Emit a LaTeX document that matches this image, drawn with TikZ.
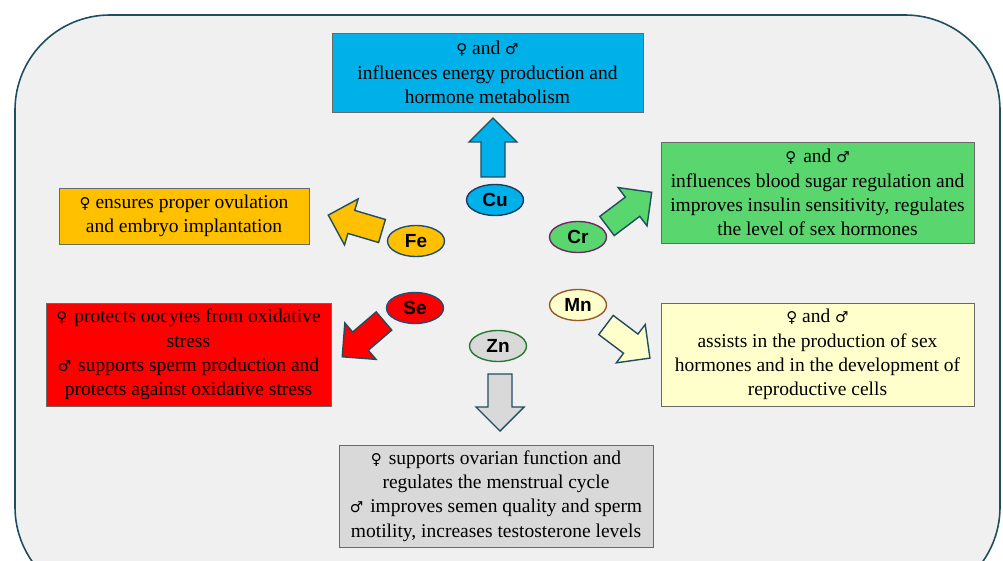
\documentclass[tikz,border=0pt]{standalone}
\usepackage{fontspec}
\setmainfont{Liberation Serif}
\newfontfamily\lblfont{Liberation Sans}
\newfontfamily\symfont{DejaVu Sans}
\usetikzlibrary{shapes.geometric}
\definecolor{bgfill}{RGB}{240,240,240}
\definecolor{framecol}{RGB}{31,78,95}
\definecolor{cublue}{RGB}{0,176,232}
\definecolor{fegold}{RGB}{255,192,0}
\definecolor{sered}{RGB}{255,0,0}
\definecolor{crgreen}{RGB}{90,214,110}
\definecolor{mnyellow}{RGB}{255,255,204}
\definecolor{zngray}{RGB}{217,217,217}
\definecolor{boxline}{RGB}{105,105,105}
\definecolor{cuedge}{RGB}{31,56,100}
\definecolor{feedge}{RGB}{31,78,121}
\definecolor{credge}{RGB}{112,40,100}
\definecolor{mnedge}{RGB}{150,90,40}
\definecolor{znedge}{RGB}{40,120,50}
\newcommand\fem{{\symfont\fontsize{15}{24}\selectfont ♀}}
\newcommand\mal{{\symfont\fontsize{15}{24}\selectfont ♂}}
\newcommand\blkarrow[4]{%
  \draw[blockarrow, fill=#4, shift={#1}, rotate=#2]
    (0,-12) -- ({#3-24},-12) -- ({#3-24},-24) -- (#3,0) --
    ({#3-24},24) -- ({#3-24},12) -- (0,12) -- cycle;}
\begin{document}
\begin{tikzpicture}[x=1pt,y=-1pt,
  infobox/.style={draw=boxline, line width=0.8pt, inner sep=0pt, align=center,
    font=\fontsize{19.5}{24.2}\selectfont, text=black},
  elem/.style={ellipse, line width=1.4pt, minimum width=57pt, minimum height=31pt,
    inner sep=0pt, font=\lblfont\bfseries\fontsize{19}{19}\selectfont},
  blockarrow/.style={draw=framecol, line width=1.4pt, line join=miter}]
\useasboundingbox (0,0) rectangle (1003,561);
\begin{scope}
  \clip (0,0) rectangle (1003,561);
  \draw[rounded corners=95pt, fill=bgfill, draw=framecol, line width=1.6pt]
    (15,15) rectangle (1000,602);
\end{scope}

% boxes
\node[infobox, fill=cublue, minimum width=311pt, minimum height=79pt] (cubox) at (487.5,72.5)
  {\fem\ and \mal\\ influences energy production and\\ hormone metabolism};
\node[infobox, fill=fegold, minimum width=250pt, minimum height=56pt] (febox) at (184,216)
  {\fem\ ensures proper ovulation\\ and embryo implantation};
\node[infobox, fill=sered, minimum width=285pt, minimum height=103pt] (sebox) at (188.5,354.5)
  {\fem\hspace{7pt}protects oocytes from oxidative\\ stress\\ \mal\hspace{7pt}supports sperm production and\\ protects against oxidative stress};
\node[infobox, fill=crgreen, minimum width=313pt, minimum height=101pt] (crbox) at (817.5,192.5)
  {\fem\hspace{7pt}and \mal\\ influences blood sugar regulation and\\ improves insulin sensitivity, regulates\\ the level of sex hormones};
\node[infobox, fill=mnyellow, minimum width=313pt, minimum height=103pt] (mnbox) at (817.5,354.5)
  {\fem\ and \mal\\ assists in the production of sex\\ hormones and in the development of\\ reproductive cells};
\node[infobox, fill=zngray, minimum width=314pt, minimum height=102pt] (znbox) at (496,496)
  {\fem\hspace{7pt}supports ovarian function and\\ regulates the menstrual cycle\\ \mal\hspace{7pt}improves semen quality and sperm\\ motility, increases testosterone levels};

% block arrows
\blkarrow{(493,177)}{90}{59}{cublue}
\blkarrow{(382,231)}{163.5}{56}{fegold}
\blkarrow{(384,321)}{220.6}{55}{sered}
\blkarrow{(607,226)}{37}{56}{crgreen}
\blkarrow{(606,325)}{-37}{55}{mnyellow}
\blkarrow{(500,374)}{-90}{57}{zngray}

% element ellipses
\node[elem, fill=cublue, draw=cuedge] (cu) at (495,200) {Cu};
\node[elem, fill=fegold, draw=feedge] (fe) at (416,241) {Fe};
\node[elem, fill=sered, draw=feedge] (se) at (415,308) {Se};
\node[elem, fill=crgreen, draw=credge] (cr) at (578,237) {Cr};
\node[elem, fill=mnyellow, draw=mnedge] (mn) at (578,305) {Mn};
\node[elem, fill=zngray, draw=znedge] (zn) at (498,346) {Zn};
\end{tikzpicture}
\end{document}
